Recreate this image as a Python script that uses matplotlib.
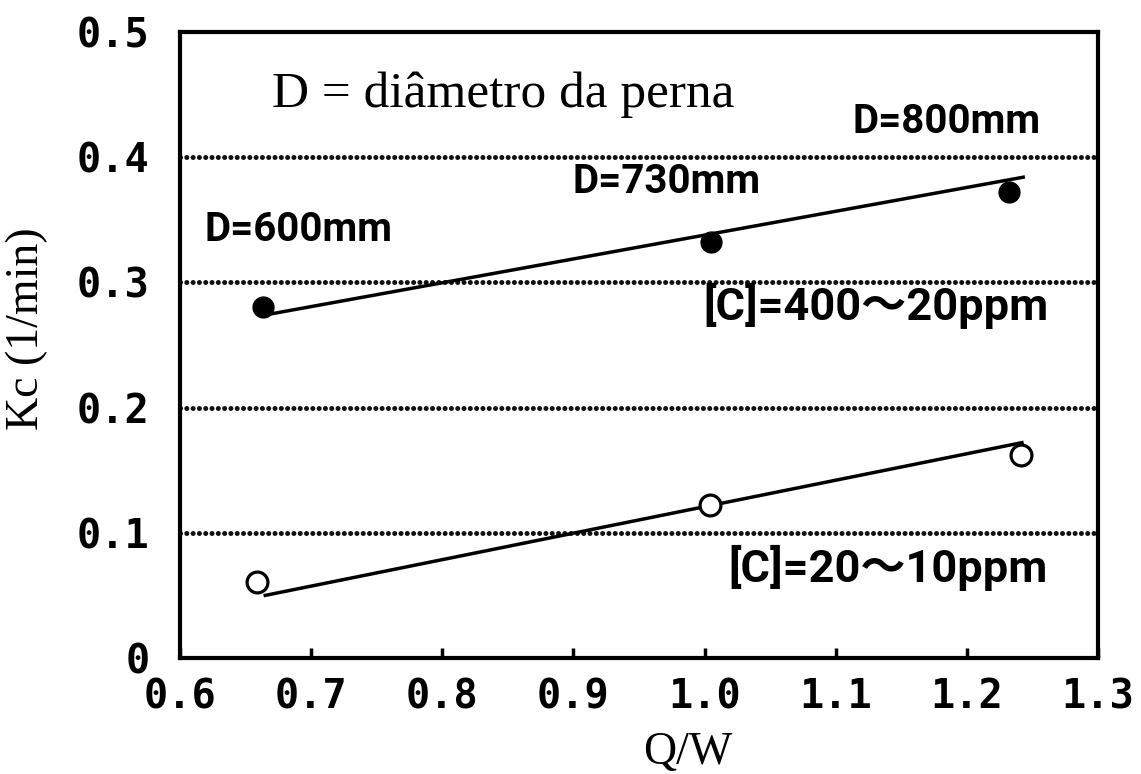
import matplotlib
matplotlib.use("Agg")
import matplotlib.pyplot as plt

# Measured mass-transfer coefficients versus Q/W
qw_high = [0.663, 1.005, 1.232]
kc_high = [0.280, 0.332, 0.372]
qw_low = [0.659, 1.004, 1.241]
kc_low = [0.061, 0.122, 0.162]

# Straight-line trends drawn through each series
trend_high_x = [0.665, 1.243]
trend_high_y = [0.274, 0.384]
trend_low_x = [0.665, 1.242]
trend_low_y = [0.050, 0.172]

x_ticks = [0.6, 0.7, 0.8, 0.9, 1.0, 1.1, 1.2, 1.3]
x_tick_labels = ["0.6", "0.7", "0.8", "0.9", "1.0", "1.1", "1.2", "1.3"]
y_ticks = [0.0, 0.1, 0.2, 0.3, 0.4, 0.5]
y_tick_labels = ["0", "0.1", "0.2", "0.3", "0.4", "0.5"]
grid_levels = [0.1, 0.2, 0.3, 0.4]

diam_labels = ["D=600mm", "D=730mm", "D=800mm"]
diam_pos = [(0.619, 0.342), (0.899, 0.380), (1.113, 0.428)]
conc_labels = ["[C]=400～20ppm", "[C]=20～10ppm"]
conc_pos = [(0.999, 0.281), (1.018, 0.072)]

serif = ["Liberation Serif", "DejaVu Serif"]
narrow = ["Roboto", "Noto Sans CJK JP"]
mono = ["DejaVu Sans Mono"]

fig = plt.figure(figsize=(11.41, 7.74), dpi=100)
ax = fig.add_axes([0.1578, 0.1499, 0.8045, 0.8088])
ax.set_xlim(0.6, 1.3)
ax.set_ylim(0.0, 0.5)

for lvl in grid_levels:
    ax.axhline(lvl, color="#111111", lw=3.6, linestyle=(0, (0.01, 1.25)),
               dash_capstyle="round", zorder=1)

ax.plot(trend_high_x, trend_high_y, color="black", lw=2.5, zorder=2)
ax.plot(trend_low_x, trend_low_y, color="black", lw=2.5, zorder=2)
ax.plot(qw_high, kc_high, "o", ms=15, mfc="black", mec="black", zorder=3)
ax.plot(qw_low, kc_low, "o", ms=15, mfc="white", mec="black", mew=2.3, zorder=3)

for s in ax.spines.values():
    s.set_linewidth(3.0)
    s.set_color("black")

ax.set_xticks(x_ticks)
ax.set_xticklabels(x_tick_labels, family=mono, fontweight="bold", fontsize=29)
ax.set_yticks(y_ticks)
ax.set_yticklabels(y_tick_labels, family=mono, fontweight="bold", fontsize=29)
ax.tick_params(axis="x", direction="in", length=7, width=2.5, pad=14)
ax.tick_params(axis="y", length=0, pad=22)

ax.set_xlabel("Q/W", family=serif, fontsize=33)
ax.xaxis.set_label_coords(0.553, -0.118)
ax.set_ylabel("Kc (1/min)", family=serif, fontsize=33)
ax.yaxis.set_label_coords(-0.144, 0.526)

ax.text(0.670, 0.450, "D = diâmetro da perna", family=serif, fontsize=37,
        va="center", ha="left")
for lab, (x, y) in zip(diam_labels, diam_pos):
    ax.text(x, y, lab, family=narrow, fontweight="bold", fontstretch="condensed",
            fontsize=29, va="center", ha="left")
for lab, (x, y) in zip(conc_labels, conc_pos):
    ax.text(x, y, lab, family=narrow, fontweight="bold", fontstretch="condensed",
            fontsize=32.5, va="center", ha="left")

fig.savefig("out.png", dpi=100)
